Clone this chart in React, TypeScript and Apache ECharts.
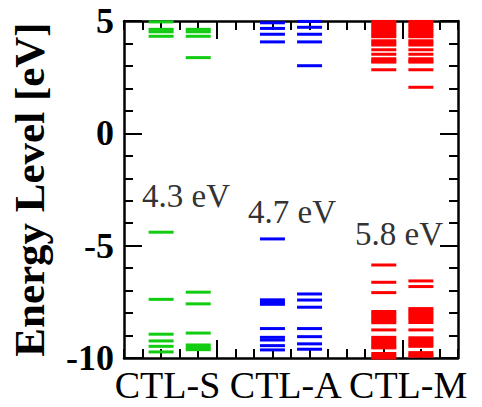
import React, { useEffect, useRef } from "react";
import * as echarts from "echarts";

// Energy levels (eV), one array per column
const ctlS_left = [4.96, 4.63, 4.52, 4.32, -4.4, -7.39, -8.94, -9.24, -9.48, -9.73];
const ctlS_right = [4.63, 4.52, 4.32, 3.37, -7.07, -7.59, -8.89, -9.42, -9.53, -9.63];
const ctlA_left = [4.92, 4.67, 4.41, 4.07, -4.7, -7.41, -7.51, -7.61, -8.69, -9.08, -9.2, -9.45, -9.64];
const ctlA_right = [4.98, 4.72, 4.41, 4.07, 3.01, -7.15, -7.42, -7.74, -8.69, -9.05, -9.37, -9.61];
const ctlM_left = [4.98, 4.88, 4.78, 4.68, 4.58, 4.48, 4.38, 4.3, 4.12, 4.02, 3.93, 3.72, 3.52, 3.32, 3.22, 3.17, 2.83,
  -5.86, -6.63, -7.09, -7.93, -8.03, -8.13, -8.23, -8.33, -8.43, -8.75,
  -9.08, -9.18, -9.28, -9.38, -9.48, -9.55, -9.8, -9.9, -10.0];
const ctlM_right = [4.98, 4.88, 4.78, 4.68, 4.58, 4.48, 4.38, 4.3, 4.12, 4.02, 3.93, 3.72, 3.52, 3.32, 3.22, 3.17, 2.83, 2.05,
  -6.57, -6.82, -7.8, -7.9, -8.0, -8.1, -8.2, -8.3, -8.42, -8.75,
  -9.1, -9.2, -9.3, -9.4, -9.48, -9.76, -9.86, -9.92];

const categories = ["CTL-S", "CTL-A", "CTL-M"];
const gapLabels = ["4.3 eV", "4.7 eV", "5.8 eV"];
const columnPositions = [2, 4, 8, 10, 14, 16];
const seriesColors = ["#11cc11", "#0000ff", "#ff0000"];
const yTicks = [-10, -5, 0, 5];

const columns = [ctlS_left, ctlS_right, ctlA_left, ctlA_right, ctlM_left, ctlM_right];

const SERIF = "Liberation Serif";

export default function App() {
  const ref = useRef<HTMLDivElement>(null);
  useEffect(() => {
    if (!ref.current) return;
    const chart = echarts.init(ref.current, null, { renderer: "svg" });
    const tickCats = Array.from({ length: 19 }, (_, i) => String(i));
    const majorTick = (i: number) => i === 5 || i === 15;
    const axisLine = { show: true, onZero: false, lineStyle: { color: "#000", width: 2.5 } };
    const valueX = (pos: string) => ({
      type: "value", position: pos, min: 0, max: 18, interval: 1,
      axisLine, axisTick: { show: true, inside: true, length: 9, lineStyle: { color: "#000", width: 2 } },
      axisLabel: { show: false }, splitLine: { show: false },
    });
    const catX = (pos: string) => ({
      type: "category", position: pos, data: tickCats, boundaryGap: false,
      axisLine: { show: false, onZero: false },
      axisTick: { show: true, inside: true, length: 18, interval: (i: number) => majorTick(i), lineStyle: { color: "#000", width: 2 } },
      axisLabel: { show: false }, splitLine: { show: false },
    });
    const yAx = (pos: string, labels: boolean) => ({
      type: "value", position: pos, min: yTicks[0], max: yTicks[yTicks.length - 1], interval: 5,
      axisLine,
      axisTick: { show: true, inside: true, length: 18, lineStyle: { color: "#000", width: 2 } },
      minorTick: { show: true, splitNumber: 5, length: 9, lineStyle: { color: "#000", width: 2 } },
      axisLabel: { show: labels, fontFamily: SERIF, fontWeight: "bold", fontSize: 36, color: "#000", margin: 10 },
      splitLine: { show: false },
      ...(labels ? {
        name: "Energy Level [eV]", nameLocation: "middle", nameRotate: 90, nameGap: 73,
        nameTextStyle: { fontFamily: SERIF, fontWeight: "bold", fontSize: 43, color: "#000" },
      } : {}),
    });
    const series = columns.map((levels, ci) => ({
      type: "scatter",
      xAxisIndex: 0, yAxisIndex: 0,
      symbol: "rect",
      symbolSize: [25, 3],
      clip: false,
      itemStyle: { color: seriesColors[Math.floor(ci / 2)], opacity: 1 },
      data: levels.map((e) => [columnPositions[ci], e]),
    }));
    const gapPos = [[186, 196], [292, 212], [399, 234]];
    chart.setOption({
      animation: false,
      grid: { left: 120, right: 24, top: 21, bottom: 49 },
      xAxis: [valueX("bottom"), catX("bottom"), valueX("top"), catX("top")],
      yAxis: [yAx("left", true), yAx("right", false)],
      series,
      graphic: [
        ...gapLabels.map((t, i) => ({
          type: "text", x: gapPos[i][0], y: gapPos[i][1],
          style: { text: t, fontFamily: SERIF, fontSize: 33, fill: "#333", textAlign: "center", textVerticalAlign: "middle" },
        })),
        {
          type: "text", x: 291, y: 385,
          style: { text: categories.join(" "), fontFamily: SERIF, fontSize: 38, fill: "#000", textAlign: "center", textVerticalAlign: "middle" },
        },
      ],
    });
    return () => chart.dispose();
  }, []);
  return <div ref={ref} style={{ width: 482, height: 407, position: "absolute", left: 0, top: 0 }} />;
}
